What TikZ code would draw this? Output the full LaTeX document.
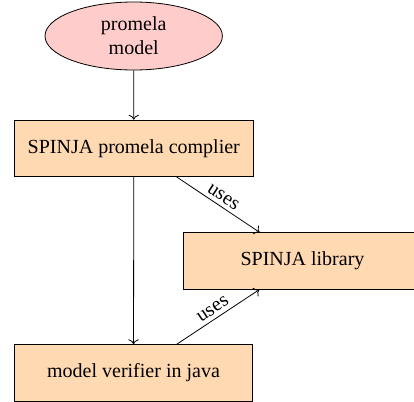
\documentclass[tikz,border=0pt]{standalone}
\usepackage{fontspec}
\setmainfont{Liberation Serif}
\usetikzlibrary{shapes.geometric,arrows.meta}
\begin{document}
\begin{tikzpicture}[x=0.5pt,y=-0.5pt,
  every node/.style={font=\fontsize{10}{12}\selectfont},
  startnode/.style={ellipse,draw,fill=red!20,minimum width=88.7pt,minimum height=34pt,inner sep=0pt,align=center},
  procbox/.style={rectangle,draw,fill=orange!30,minimum width=119.2pt,minimum height=28.2pt,inner sep=0pt},
  conn/.style={->,line width=0.4pt},
  lbl/.style={sloped,above,midway,inner sep=2pt}]
\useasboundingbox (0,0) rectangle (414,402);
\node[startnode] (pm) at (133.7,36) {promela\\model};
\node[procbox] (comp) at (133.8,148.3) {SPINJA promela complier};
\node[procbox] (lib) at (302.5,261) {SPINJA library};
\node[procbox] (ver) at (133.5,372.9) {model verifier in java};
\draw[conn] (pm) -- (comp);
\draw[conn] (comp) -- (ver);
\draw[conn] (comp) -- node[lbl] {uses} (lib);
\draw[conn] (ver) -- node[lbl] {uses} (lib);
\end{tikzpicture}
\end{document}
